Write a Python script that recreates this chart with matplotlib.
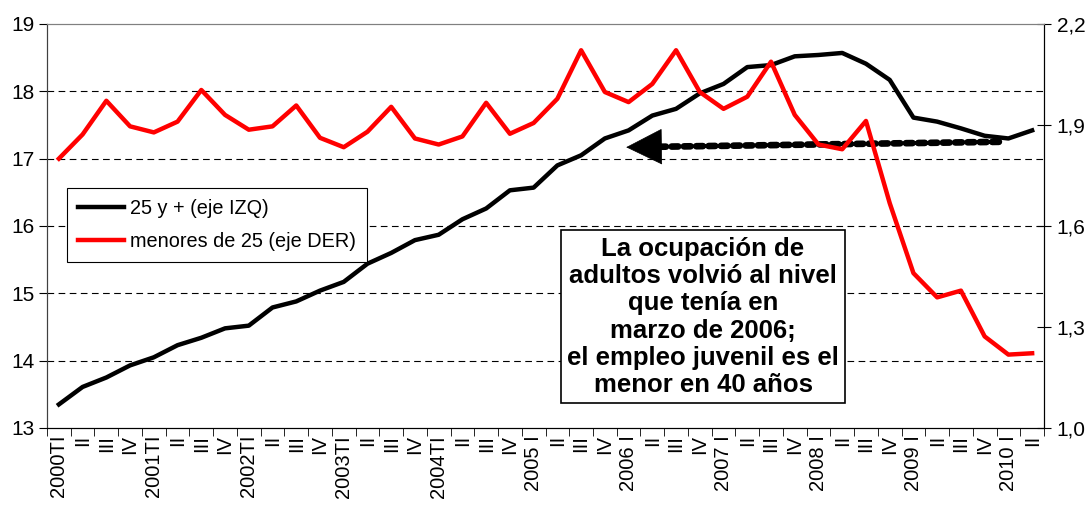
import numpy as np
import matplotlib.pyplot as plt

plt.rcParams['font.family'] = ['Liberation Sans', 'DejaVu Sans']

# quarterly labels 2000TI .. 2010 II
quarters = ["2000TI", "II", "III", "IV", "2001TI", "II", "III", "IV",
            "2002TI", "II", "III", "IV", "2003TI", "II", "III", "IV",
            "2004TI", "II", "III", "IV", "2005 I", "II", "III", "IV",
            "2006 I", "II", "III", "IV", "2007 I", "II", "III", "IV",
            "2008 I", "II", "III", "IV", "2009 I", "II", "III", "IV",
            "2010 I", "II"]

# ocupados 25 y mas (millones, eje izquierdo)
adultos = [13.35, 13.61, 13.75, 13.93, 14.05, 14.23, 14.34, 14.48, 14.52, 14.79,
           14.88, 15.04, 15.17, 15.44, 15.60, 15.79, 15.87, 16.10, 16.26, 16.53,
           16.57, 16.90, 17.05, 17.30, 17.42, 17.64, 17.74, 17.97, 18.11, 18.36,
           18.39, 18.52, 18.54, 18.57, 18.41, 18.17, 17.61, 17.55, 17.45, 17.34,
           17.30, 17.42]

# ocupados menores de 25 (millones, eje derecho)
jovenes = [1.800, 1.872, 1.972, 1.896, 1.878, 1.910, 2.004, 1.930, 1.886, 1.896,
           1.958, 1.862, 1.834, 1.880, 1.954, 1.860, 1.842, 1.866, 1.966, 1.874,
           1.906, 1.978, 2.122, 1.998, 1.968, 2.022, 2.122, 1.998, 1.948, 1.984,
           2.088, 1.930, 1.842, 1.828, 1.912, 1.668, 1.460, 1.388, 1.408, 1.272,
           1.218, 1.222]

# dotted arrow: from 2010 back to the level of 2006 I
arrow_start = (39.6, 17.25)
arrow_tip = (23.9, 17.17)

x = np.arange(len(quarters))

fig = plt.figure(figsize=(10.9, 5.05), dpi=100)
ax = fig.add_axes([47/1090, 1 - 428/505, (1044 - 47)/1090, (428 - 24)/505])
ax2 = ax.twinx()

# gridlines (left axis)
for v in [14, 15, 16, 17, 18]:
    ax.axhline(v, color='black', lw=0.8, ls=(0, (6, 4)), zorder=0)

l1, = ax.plot(x, adultos, color='black', lw=3.2, zorder=3)
l2, = ax2.plot(x, jovenes, color='#ff0000', lw=3.2, zorder=3)

ax.set_xlim(-0.5, len(quarters) - 0.5)
ax.set_ylim(13, 19)
ax2.set_ylim(1.0, 2.2)
ax.set_yticks(np.arange(13, 20, 1))
ax2.set_yticks([1.0, 1.3, 1.6, 1.9, 2.2])
ax2.set_yticklabels(['1,0', '1,3', '1,6', '1,9', '2,2'])

ax.set_xticks(x)
ax.set_xticklabels(quarters, rotation=90, va='top', ha='center')
ax.set_xticks(np.arange(-0.5, len(quarters), 1), minor=True)
ax.tick_params(axis='x', which='major', length=0, labelsize=14.5, pad=5)
ax.tick_params(axis='x', which='minor', length=6, direction='out')
ax.tick_params(axis='y', labelsize=15, length=6, direction='out', pad=3)
ax2.tick_params(axis='y', labelsize=15, length=10, direction='inout', pad=4)

for a in (ax, ax2):
    a.spines['top'].set_color('#808080')
    a.spines['left'].set_color('#404040')
    a.spines['right'].set_color('black')
    a.spines['bottom'].set_color('black')

# dotted shaft + solid head
head_base = (arrow_tip[0] + 1.0, arrow_tip[1] + 0.005)
ax.annotate('', xy=head_base, xytext=arrow_start,
            arrowprops=dict(arrowstyle='-', color='black', lw=4.8,
                            linestyle=(0, (1, 0.85)), shrinkA=0, shrinkB=0),
            zorder=4)
ax.annotate('', xy=arrow_tip, xytext=(arrow_tip[0] + 1.3, arrow_tip[1] + 0.007),
            arrowprops=dict(arrowstyle='-|>', color='black', lw=0.5,
                            mutation_scale=62, shrinkA=0, shrinkB=0),
            zorder=4)

leg = ax.legend([l1, l2], ['25 y + (eje IZQ)', 'menores de 25 (eje DER)'],
                loc='upper left', bbox_to_anchor=(0.02, 0.594), borderaxespad=0,
                fancybox=False, edgecolor='black', framealpha=1, fontsize=14.3,
                handlelength=2.3, handletextpad=0.35, labelspacing=0.7,
                borderpad=0.55)
leg.get_frame().set_linewidth(0.8)
leg.set_zorder(5)

ax2.text(0.658, 0.275,
         'La ocupación de\nadultos volvió al nivel\nque tenía en\nmarzo de 2006;\n'
         'el empleo juvenil es el\nmenor en 40 años',
         transform=ax.transAxes, ha='center', va='center', fontsize=18.5,
         fontweight='bold', linespacing=1.17, zorder=6,
         bbox=dict(boxstyle='square,pad=0.25', fc='white', ec='black', lw=1.2))

fig.savefig('out.png', dpi=100, facecolor='white')
